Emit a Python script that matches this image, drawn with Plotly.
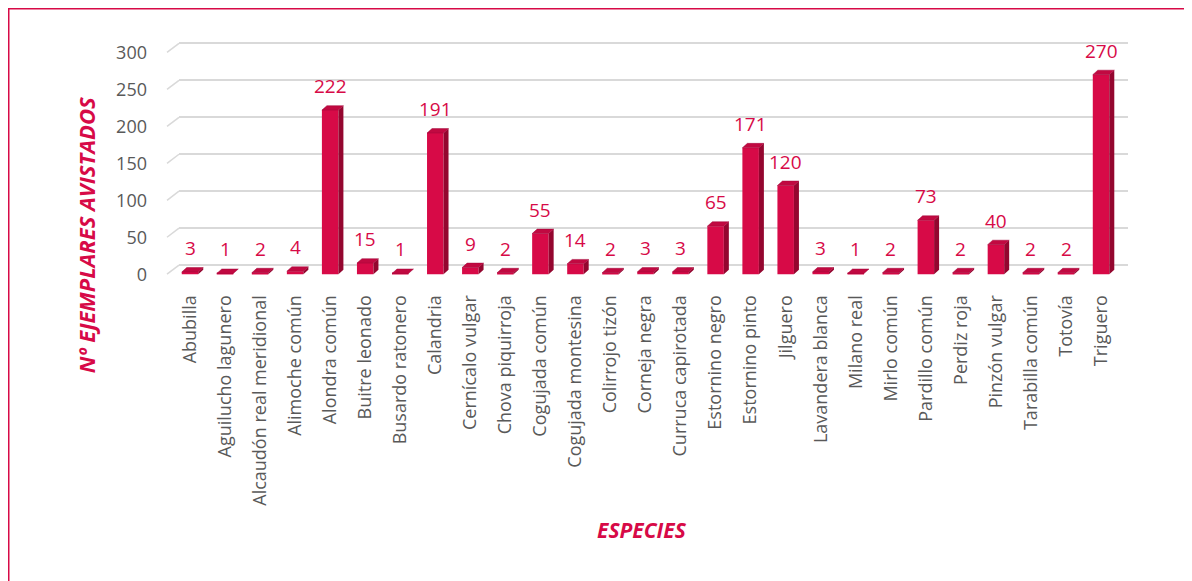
import plotly.graph_objects as go

# ---------------- data ----------------
categories = ["Abubilla", "Aguilucho lagunero", "Alcaudón real meridional", "Alimoche común",
              "Alondra común", "Buitre leonado", "Busardo ratonero", "Calandria",
              "Cernícalo vulgar", "Chova piquirroja", "Cogujada común", "Cogujada montesina",
              "Colirrojo tizón", "Corneja negra", "Curruca capirotada", "Estornino negro",
              "Estornino pinto", "Jilguero", "Lavandera blanca", "Milano real", "Mirlo común",
              "Pardillo común", "Perdiz roja", "Pinzón vulgar", "Tarabilla común", "Totovía",
              "Triguero"]
values = [3, 1, 2, 4, 222, 15, 1, 191, 9, 2, 55, 14, 2, 3, 3, 65, 171, 120, 3, 1, 2,
          73, 2, 40, 2, 2, 270]
y_ticks = [0, 50, 100, 150, 200, 250, 300]

# ---------------- style / geometry ----------------
OFF = 8                      # page body margin
W, H = 1192 - OFF, 581 - OFF
CRIMSON = "#D70A47"
SIDE = "#94062F"
TOP = "#C10941"
GRID = "#D9D9D9"
TICK = "#595959"
FONT = "Open Sans"

FRONT0_PX = 190.0      # screen pixel centre of first category (front plane)
STEP_PX = 35.04        # pixels per category
ZERO_FRONT_PX = 277.5  # screen pixel of value 0 on front plane
ZERO_BACK_PX = 268.3   # screen pixel of value 0 on back wall
PX_PER_UNIT = 0.7483
TOP_PX, BOT_PX = 40, 282
FRONT_L, FRONT_R = 160, 1130
BACK_L, BACK_R = 179, 1128

BAR_W = 16.5 / STEP_PX
DX = 5.0 / STEP_PX
DY = 4.5 / PX_PER_UNIT


def px(x):
    return (x - OFF) / W


def py(y):
    return 1 - (y - OFF) / H


idx = list(range(len(categories)))

fig = go.Figure()

# back wall (gridlines) subplot: dummy invisible trace so the subplot exists
fig.add_trace(go.Scatter(x=[0.5], y=[0], mode="markers", marker=dict(opacity=0),
                         hoverinfo="skip", showlegend=False, xaxis="x", yaxis="y"))

# front faces
fig.add_trace(go.Bar(x=idx, y=values, width=BAR_W, marker=dict(color=CRIMSON, line=dict(width=0)),
                     showlegend=False, xaxis="x2", yaxis="y2", hoverinfo="x+y"))

# side faces & top faces as polygons in data units
sx, sy, tx, ty = [], [], [], []
for i, v in zip(idx, values):
    l, r = i - BAR_W / 2, i + BAR_W / 2
    sx += [r, r + DX, r + DX, r, r, None]
    sy += [0, DY, v + DY, v, 0, None]
    tx += [l, r, r + DX, l + DX, l, None]
    ty += [v, v, v + DY, v + DY, v, None]
fig.add_trace(go.Scatter(x=sx, y=sy, fill="toself", fillcolor=SIDE, mode="lines",
                         line=dict(width=0, color=SIDE), hoverinfo="skip", showlegend=False,
                         xaxis="x2", yaxis="y2"))
fig.add_trace(go.Scatter(x=tx, y=ty, fill="toself", fillcolor=TOP, mode="lines",
                         line=dict(width=0.5, color="#A0083A"), hoverinfo="skip", showlegend=False,
                         xaxis="x2", yaxis="y2"))

# data labels
for i, v in zip(idx, values):
    fig.add_annotation(x=i, y=v, xref="x2", yref="y2", text=str(v), showarrow=False,
                       yshift=24, xanchor="center", yanchor="middle",
                       font=dict(family=FONT, size=19, color=CRIMSON))

# slanted floor/wall connectors at left
for t in y_ticks:
    fig.add_shape(type="line", xref="x2", yref="y2",
                  x0=(167 - FRONT0_PX) / STEP_PX, y0=t,
                  x1=(BACK_L - FRONT0_PX) / STEP_PX, y1=t + (ZERO_FRONT_PX - ZERO_BACK_PX) / PX_PER_UNIT,
                  line=dict(color=GRID, width=1.5), layer="below")

# axis titles
fig.add_annotation(x=px(86), y=py(238), xref="paper", yref="paper", text="<b><i>Nº EJEMPLARES AVISTADOS</i></b>",
                   textangle=-90, showarrow=False, xanchor="center", yanchor="middle",
                   font=dict(family=FONT, size=22, color=CRIMSON))
fig.add_annotation(x=px(642), y=py(536), xref="paper", yref="paper", text="<b><i>ESPECIES</i></b>",
                   showarrow=False, xanchor="center", yanchor="middle",
                   font=dict(family=FONT, size=21, color=CRIMSON))

# outer border
fig.add_shape(type="rect", xref="paper", yref="paper", x0=px(8.75), y0=py(8.75), x1=px(1192 + 20), y1=py(581 + 20),
              line=dict(color=CRIMSON, width=1.5), fillcolor="rgba(0,0,0,0)")

fig.update_layout(
    width=W, height=H,
    margin=dict(l=0, r=0, t=0, b=0),
    paper_bgcolor="white", plot_bgcolor="rgba(0,0,0,0)",
    showlegend=False,
    xaxis=dict(domain=[px(BACK_L), px(BACK_R)], range=[0, 1], visible=False, fixedrange=True),
    yaxis=dict(domain=[py(BOT_PX), py(TOP_PX)],
               range=[(ZERO_BACK_PX - BOT_PX) / PX_PER_UNIT, (ZERO_BACK_PX - TOP_PX) / PX_PER_UNIT],
               tickvals=y_ticks, showticklabels=False, showgrid=True, gridcolor=GRID, gridwidth=1.5,
               zeroline=False, showline=False, ticks=""),
    xaxis2=dict(domain=[px(FRONT_L), px(FRONT_R)], anchor="y2",
                range=[(FRONT_L - FRONT0_PX) / STEP_PX, (FRONT_R - FRONT0_PX) / STEP_PX],
                tickvals=idx, ticktext=categories, tickangle=-90, ticklabelstandoff=12,
                tickfont=dict(family=FONT, size=18, color=TICK),
                showgrid=False, zeroline=False, showline=False, ticks=""),
    yaxis2=dict(domain=[py(BOT_PX), py(TOP_PX)], anchor="x2",
                range=[(ZERO_FRONT_PX - BOT_PX) / PX_PER_UNIT, (ZERO_FRONT_PX - TOP_PX) / PX_PER_UNIT],
                tickvals=y_ticks, ticklabelstandoff=12,
                tickfont=dict(family=FONT, size=18, color=TICK),
                showgrid=False, zeroline=False, showline=False, ticks=""),
)

fig.write_html("out.html")
